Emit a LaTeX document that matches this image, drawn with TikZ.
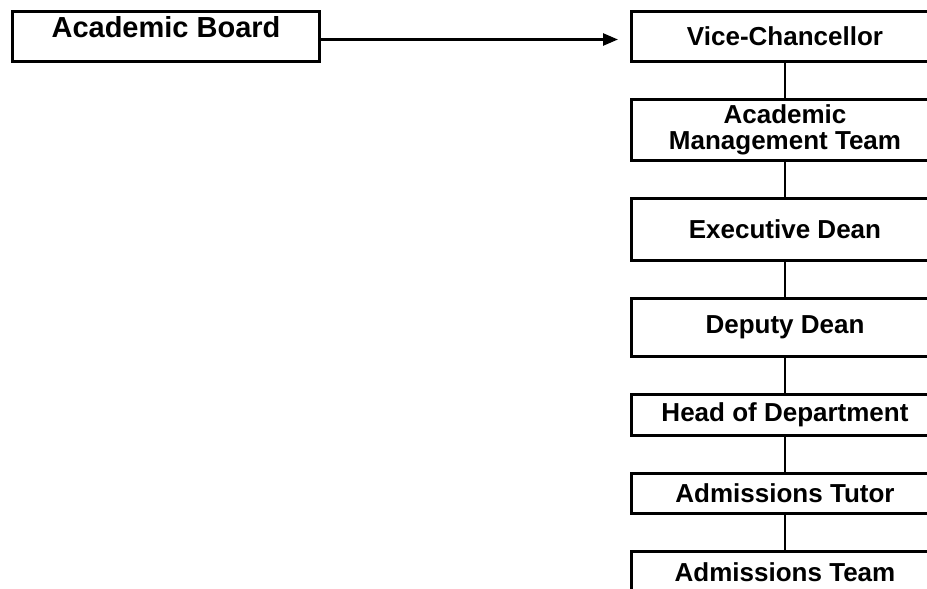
\documentclass[tikz,border=0pt]{standalone}
\usepackage{fontspec}
\setmainfont{Liberation Sans}
\usetikzlibrary{arrows.meta,positioning}
\tikzset{
  org/box/.style={
    draw,
    line width=3pt,
    minimum width=307pt,
    inner sep=0pt,
    align=center,
    font=\bfseries\fontsize{26}{26}\selectfont
  },
  org/link/.style={line width=2.2pt},
  org/arrow/.style={line width=2.5pt, -{Triangle[length=15pt,width=12pt]}}
}

\begin{document}
\begin{tikzpicture}

\useasboundingbox (0,0) rectangle (927pt,-589pt);
\clip (0,0) rectangle (927pt,-589pt);

\node (board) [org/box, anchor=north west, text height=25.5pt, text depth=24.5pt,
  font=\bfseries\fontsize{29}{29}\selectfont] at (11pt,-10pt) {Academic Board};

\node (vc) [org/box, anchor=north west, minimum height=50pt] at (630pt,-10pt) {Vice-Chancellor};
\node (amt) [org/box, below=35pt of vc, minimum height=61pt] {Academic\\Management Team};
\node (exec) [org/box, below=35pt of amt, minimum height=62pt] {Executive Dean};
\node (deputy) [org/box, below=35pt of exec, minimum height=58pt] {Deputy Dean};
\node (hod) [org/box, below=35pt of deputy, minimum height=41pt] {Head of Department};
\node (tutor) [org/box, below=35pt of hod, minimum height=40pt] {Admissions Tutor};
\node (team) [org/box, below=35pt of tutor, minimum height=42pt] {Admissions Team};

% --- reporting lines
\draw[org/arrow] ([xshift=-3pt,yshift=-3pt]board.east) -- ([xshift=-12pt,yshift=-3pt]vc.west);
\foreach \a/\b in {vc/amt, amt/exec, exec/deputy, deputy/hod, hod/tutor, tutor/team}
  \draw[org/link] (\a) -- (\b);

\end{tikzpicture}
\end{document}
